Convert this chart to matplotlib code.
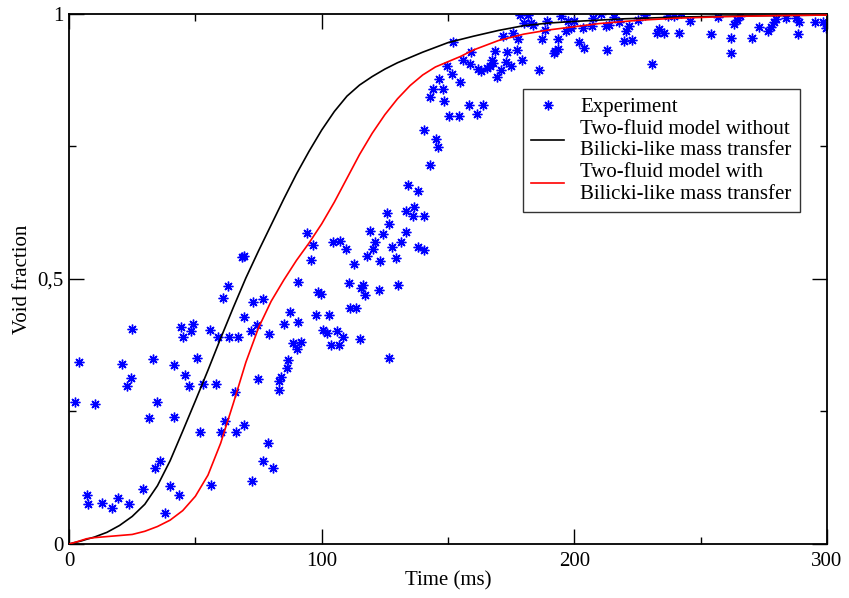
import matplotlib
matplotlib.use("Agg")
import matplotlib.pyplot as plt
from matplotlib.ticker import FixedLocator, FixedFormatter

plt.rcParams['font.family'] = ['Liberation Serif', 'DejaVu Serif']

# experiment (time in ms, void fraction)
exp_t = [2.4, 4.0, 10.3, 7.0, 7.6, 13.2, 17.0, 19.3, 23.7, 21.1, 22.8, 24.5, 24.8, 29.3, 31.8,
         33.4, 34.8, 34.0, 36.0, 38.0, 39.9, 43.5, 41.6, 41.7, 46.0, 47.4, 44.3, 45.1, 48.3, 49.1,
         50.5, 51.8, 53.0, 55.7, 56.2, 58.3, 58.9, 60.0, 61.7, 61.1, 63.1, 63.4, 66.8, 65.7, 66.1,
         69.1, 69.1, 71.9, 72.5, 72.9, 74.5, 74.7, 76.8, 76.8, 78.8, 79.0, 80.7, 83.0, 83.0, 83.9,
         85.2, 86.2, 86.7, 87.6, 88.8, 90.1, 90.8, 90.8, 69.4, 68.6,
         91.7, 94.1, 96.7, 95.8, 97.8, 98.7, 99.9, 100.6, 102.2, 102.8, 103.6, 104.4, 106.1, 106.7,
         107.3, 108.4, 109.5, 110.8, 111.3, 112.7, 113.7, 115.1, 115.6, 116.4, 117.2, 118.1, 119.0,
         120.3, 121.0, 122.8, 123.1, 124.3, 125.7, 126.5, 126.7, 128.0, 129.4, 130.3, 131.4, 133.3,
         133.3, 134.3, 136.0, 136.5, 138.0, 138.3, 140.4, 140.6, 142.9, 140.6, 145.3, 146.2,
         151.9, 159.1, 155.8, 158.7, 149.6, 151.5, 146.6, 154.8, 144.2, 148.0, 143.0, 148.4, 150.3,
         154.5, 158.3, 161.4, 163.7,
         168.6, 167.3, 167.7, 166.6, 165.3, 163.1, 161.8, 171.0, 169.3, 173.0, 174.8, 173.2, 177.4,
         179.4, 186.0, 171.9, 175.6, 177.6, 178.5, 181.8, 180.2, 182.9, 183.5, 187.2, 188.4, 189.1,
         191.8, 192.5, 193.4, 193.4, 194.8, 196.7, 197.6, 198.7, 199.8, 201.7, 203.9, 203.6, 206.9,
         207.5, 210.7, 212.8, 212.4, 213.7, 215.8, 217.7, 220.3, 219.7, 223.0, 221.8, 225.1, 228.0,
         230.6, 232.6, 233.4, 235.4, 237.0, 239.5, 241.3, 242.3, 245.7, 254.1, 257.0, 262.0, 262.0,
         263.3, 264.3, 265.6, 270.3, 273.2, 276.5, 277.7, 279.2, 279.8, 283.7, 287.6, 288.4, 288.9,
         295.3, 298.5, 299.6]
exp_void = [0.268, 0.343, 0.265, 0.092, 0.075, 0.077, 0.067, 0.086, 0.075, 0.339, 0.299, 0.313,
            0.406, 0.103, 0.238, 0.349, 0.268, 0.144, 0.157, 0.058, 0.109, 0.092, 0.240, 0.338,
            0.319, 0.298, 0.410, 0.391, 0.401, 0.416, 0.350, 0.211, 0.302, 0.404, 0.111, 0.301,
            0.391, 0.212, 0.233, 0.464, 0.487, 0.391, 0.391, 0.287, 0.211, 0.428, 0.225, 0.401,
            0.119, 0.457, 0.413, 0.311, 0.462, 0.157, 0.191, 0.396, 0.144, 0.290, 0.308, 0.315,
            0.416, 0.332, 0.347, 0.437, 0.379, 0.367, 0.419, 0.495, 0.543, 0.541,
            0.382, 0.587, 0.565, 0.536, 0.433, 0.475, 0.471, 0.403, 0.398, 0.433, 0.376, 0.570,
            0.401, 0.376, 0.572, 0.390, 0.557, 0.492, 0.445, 0.529, 0.445, 0.387, 0.483, 0.488,
            0.469, 0.544, 0.590, 0.557, 0.569, 0.479, 0.534, 0.585, 0.625, 0.350, 0.604, 0.560,
            0.540, 0.488, 0.569, 0.628, 0.589, 0.678, 0.618, 0.635, 0.666, 0.560, 0.619, 0.555,
            0.716, 0.781, 0.765, 0.749,
            0.947, 0.929, 0.913, 0.906, 0.902, 0.887, 0.878, 0.872, 0.858, 0.858, 0.843, 0.836,
            0.808, 0.808, 0.829, 0.811, 0.828,
            0.931, 0.914, 0.908, 0.901, 0.898, 0.893, 0.896, 0.895, 0.882, 0.909, 0.901, 0.928,
            0.933, 0.913, 0.895, 0.958, 0.965, 0.952, 0.998, 0.998, 0.983, 0.983, 0.979, 0.953,
            0.970, 0.987, 0.926, 0.931, 0.934, 0.953, 0.997, 0.968, 0.987, 0.974, 0.987, 0.947,
            0.936, 0.973, 0.977, 0.993, 1.000, 0.932, 0.977, 0.979, 0.995, 0.984, 0.967, 0.949,
            0.951, 0.978, 0.989, 0.999, 0.905, 0.964, 0.972, 0.964, 0.996, 0.996, 0.964, 1.002,
            0.987, 0.962, 0.995, 0.955, 0.927, 0.982, 0.989, 0.996, 0.954, 0.976, 0.968, 0.975,
            0.984, 0.990, 0.993, 0.993, 0.962, 0.985, 0.985, 0.985, 0.973]

# two-fluid model without mass transfer
nomt_t = [0, 5, 7, 10, 15, 20, 25, 30, 35, 40, 45, 50, 55, 60, 65, 70, 75, 80, 85, 90, 95, 100,
          105, 110, 115, 120, 125, 130, 135, 140, 150, 160, 170, 180, 190, 200, 220, 240, 260,
          280, 300]
nomt_void = [0, 0.006, 0.009, 0.013, 0.022, 0.035, 0.052, 0.075, 0.110, 0.157, 0.213, 0.270,
             0.328, 0.388, 0.446, 0.502, 0.553, 0.602, 0.651, 0.698, 0.741, 0.781, 0.816, 0.845,
             0.866, 0.882, 0.896, 0.908, 0.918, 0.928, 0.946, 0.958, 0.969, 0.978, 0.983, 0.986,
             0.991, 0.994, 0.996, 0.997, 0.998]

# two-fluid model with Bilicki-like mass transfer
mt_t = [0, 3, 7, 10, 15, 20, 25, 30, 35, 40, 45, 50, 55, 60, 65, 70, 75, 80, 85, 90, 95, 100,
        105, 110, 115, 120, 125, 130, 135, 140, 145, 150, 155, 160, 170, 180, 190, 200, 210,
        225, 240, 260, 280, 300]
mt_void = [0, 0.004, 0.010, 0.012, 0.014, 0.016, 0.018, 0.024, 0.033, 0.045, 0.063, 0.090,
           0.130, 0.190, 0.265, 0.343, 0.408, 0.458, 0.498, 0.535, 0.568, 0.604, 0.645, 0.690,
           0.735, 0.775, 0.810, 0.840, 0.865, 0.885, 0.900, 0.910, 0.920, 0.932, 0.950, 0.962,
           0.970, 0.976, 0.982, 0.988, 0.992, 0.995, 0.997, 0.998]

x_ticks = [0, 100, 200, 300]
y_ticks = [0, 0.5, 1]
y_tick_labels = ['0', '0,5', '1']

fig = plt.figure(figsize=(8.49, 5.98), dpi=100)
ax = fig.add_axes([0.0813, 0.0903, 0.8928, 0.8863])

ax.plot(exp_t, exp_void, linestyle='none', marker=(8, 2, 0), markersize=7,
        markeredgewidth=1.0, color='#0000ff', label='Experiment', zorder=2)
ax.plot(nomt_t, nomt_void, color='black', linewidth=1.2,
        label='Two-fluid model without\nBilicki-like mass transfer', zorder=3)
ax.plot(mt_t, mt_void, color='#ff0000', linewidth=1.2,
        label='Two-fluid model with\nBilicki-like mass transfer', zorder=3)

ax.set_xlim(0, 300)
ax.set_ylim(0, 1)
ax.xaxis.set_major_locator(FixedLocator(x_ticks))
ax.xaxis.set_minor_locator(FixedLocator([50, 150, 250]))
ax.yaxis.set_major_locator(FixedLocator(y_ticks))
ax.yaxis.set_major_formatter(FixedFormatter(y_tick_labels))
ax.yaxis.set_minor_locator(FixedLocator([0.25, 0.75]))
ax.tick_params(which='both', direction='in', top=True, right=True, width=1.0, labelsize=15)
ax.tick_params(which='major', length=10.8)
ax.tick_params(which='minor', length=5.2)
ax.tick_params(axis='x', which='major', pad=6)
ax.tick_params(axis='y', which='major', pad=4)
for sp in ax.spines.values():
    sp.set_linewidth(1.3)

ax.set_xlabel('Time (ms)', fontsize=15, labelpad=0)
ax.set_ylabel('Void fraction', fontsize=15)
ax.yaxis.set_label_coords(-0.049, 0.5)

leg = ax.legend(loc='upper right', bbox_to_anchor=(0.964, 0.858), borderaxespad=0,
                fontsize=15, numpoints=1, handlelength=1.6, handletextpad=0.75,
                labelspacing=0.12, borderpad=0.4, frameon=True, fancybox=False)
leg.get_frame().set_edgecolor('black')
leg.get_frame().set_linewidth(1.0)

fig.savefig('out.png', dpi=100)
